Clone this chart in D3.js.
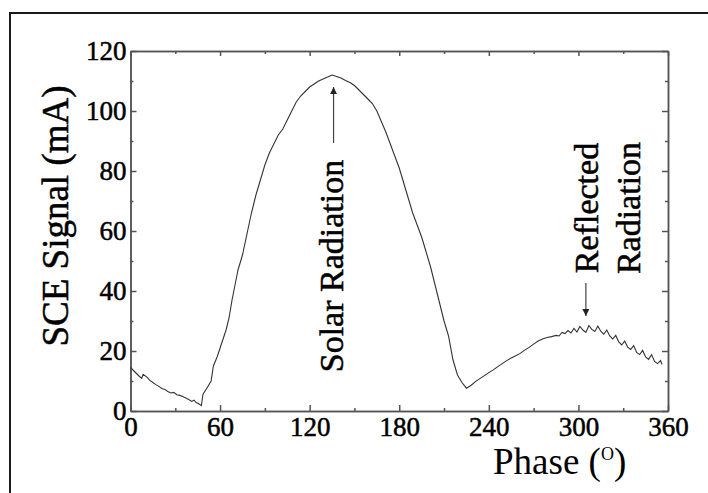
<!DOCTYPE html>
<html>
<head>
<meta charset="utf-8">
<script src="https://cdn.jsdelivr.net/npm/d3@7"></script>
<style>
  body { margin: 0; background: #fff; }
</style>
</head>
<body>
<div id="chart"></div>
<script>
// SCE signal vs phase
var phase = [0, 2, 4, 6, 7.5, 8.5, 11, 13, 15, 17, 19, 21, 23, 25, 27, 29, 31, 33, 35, 37, 39, 41, 42.5, 44, 46, 47.5,
  48.5, 51, 54, 55.5, 58, 60, 62, 64, 66, 68, 70, 72, 75, 78, 81, 84, 87, 90, 93, 96, 99, 102, 105, 108, 111, 114, 117,
  120, 123, 126, 129, 132, 135, 138, 141, 144, 147, 150, 153, 156, 159, 162, 165, 168, 171, 174, 177, 180, 183, 186,
  189, 192, 195, 198, 201, 204, 207, 210, 213, 216, 219, 222, 225, 228, 231, 234, 237, 240, 243, 246, 249, 252, 255,
  258, 261, 264, 267, 270, 273, 276, 279, 282, 285, 287, 289, 291, 293, 295, 297, 299, 301, 303, 305, 307, 309, 311,
  313, 315, 317, 319, 321, 323, 325, 327, 329, 331, 333, 335, 337, 339, 341, 343, 345, 347, 349, 351, 353, 355, 356];
var signal = [14.5, 13.5, 12.5, 11.5, 10.9, 12.2, 11.3, 10.2, 9.5, 8.8, 8.2, 7.5, 7.2, 6.5, 6.0, 6.2, 5.4, 5.2, 4.8, 4.3, 3.8, 3.2, 3.6, 2.8, 2.3, 1.8,
  5.5, 7.5, 10, 15, 18, 21, 24, 27, 31, 37, 42, 47, 52, 59, 66, 72, 77, 82, 86, 89, 92, 94, 97, 100, 103, 105, 106.5,
  108, 109, 110, 110.7, 111.3, 112, 111.5, 111, 110.2, 109.5, 108.5, 107, 105.5, 104, 102.5, 100, 96.5, 93, 89, 85, 81, 76, 71,
  66, 62, 58, 53, 48, 42, 36, 30, 25, 17, 12, 9.5, 7.6, 8.5, 9.8, 10.8, 11.8, 12.8, 13.7, 14.8, 15.8, 16.8, 17.7,
  18.4, 19.2, 20.3, 21.2, 22.3, 23.3, 24, 24.5, 24.8, 25.2, 25, 26.2, 25.8, 26.8, 26, 27.5, 26.3, 28.2, 27, 26.2, 28.5, 27.2, 26.5,
  28.3, 26.6, 25.6, 27, 25, 24, 25.2, 23, 22, 23.3, 21.3, 20.5, 21.8, 19.5, 18.8, 20.2, 18, 17.2, 18.8, 16.5, 15.8, 16.8, 15.5];

var xTicks = [0, 60, 120, 180, 240, 300, 360];
var xMinor = [30, 90, 150, 210, 270, 330];
var yTicks = [0, 20, 40, 60, 80, 100, 120];
var yMinor = [10, 30, 50, 70, 90, 110];

var FONT = "Liberation Serif";

var width = 708,
    height = 493;

var x = d3.scaleLinear().domain([0, 360]).range([130.5, 668]);
var y = d3.scaleLinear().domain([0, 120]).range([411, 51]);

var svg = d3.select("#chart").append("svg")
    .attr("width", width)
    .attr("height", height);

// outer frame, runs off the right and bottom
svg.append("rect")
    .attr("x", 10).attr("y", 13)
    .attr("width", 720).attr("height", 500)
    .attr("fill", "none")
    .attr("stroke", "#1a1a1a")
    .attr("stroke-width", 2);

function heavy(t) {
  t.attr("fill", "#000").attr("stroke", "#000").attr("stroke-width", 0.5);
}

function styleAxis(g) {
  g.attr("font-family", FONT).attr("font-size", 27);
  g.selectAll("path, line").attr("stroke", "#555").attr("stroke-width", 1.5);
  g.selectAll("text").call(heavy);
}

// bottom
svg.append("g").attr("transform", "translate(0," + y(0) + ")")
    .call(d3.axisBottom(x).tickValues(xTicks).tickSize(-6).tickSizeOuter(0).tickPadding(6))
    .call(styleAxis);
svg.append("g").attr("transform", "translate(0," + y(0) + ")")
    .call(d3.axisBottom(x).tickValues(xMinor).tickSize(-3).tickSizeOuter(0).tickFormat(""))
    .call(styleAxis);
// top
svg.append("g").attr("transform", "translate(0," + y(120) + ")")
    .call(d3.axisTop(x).tickValues(xTicks).tickSize(-5).tickSizeOuter(0).tickFormat(""))
    .call(styleAxis);
svg.append("g").attr("transform", "translate(0," + y(120) + ")")
    .call(d3.axisTop(x).tickValues(xMinor).tickSize(-3).tickSizeOuter(0).tickFormat(""))
    .call(styleAxis);
// left
svg.append("g").attr("transform", "translate(" + x(0) + ",0)")
    .call(d3.axisLeft(y).tickValues(yTicks).tickSize(-6).tickSizeOuter(0).tickPadding(4))
    .call(styleAxis);
svg.append("g").attr("transform", "translate(" + x(0) + ",0)")
    .call(d3.axisLeft(y).tickValues(yMinor).tickSize(-3).tickSizeOuter(0).tickFormat(""))
    .call(styleAxis);
// right
svg.append("g").attr("transform", "translate(" + x(360) + ",0)")
    .call(d3.axisRight(y).tickValues(yTicks).tickSize(-6).tickSizeOuter(0).tickFormat(""))
    .call(styleAxis);
svg.append("g").attr("transform", "translate(" + x(360) + ",0)")
    .call(d3.axisRight(y).tickValues(yMinor).tickSize(-3).tickSizeOuter(0).tickFormat(""))
    .call(styleAxis);

// the curve
var line = d3.line()
    .x(function(d, i) { return x(phase[i]); })
    .y(function(d) { return y(d); });

svg.append("path")
    .datum(signal)
    .attr("d", line)
    .attr("fill", "none")
    .attr("stroke", "#333")
    .attr("stroke-width", 1.1);

// axis titles
svg.append("text")
    .attr("transform", "translate(68," + 216 + ") rotate(-90)")
    .attr("text-anchor", "middle")
    .attr("font-family", FONT)
    .attr("font-size", 37)
    .call(heavy)
    .text("SCE Signal (mA)");

var xt = svg.append("text")
    .attr("x", 493).attr("y", 474)
    .attr("font-family", FONT)
    .attr("font-size", 37)
    .attr("fill", "#000");
xt.append("tspan").text("Phase (");
xt.append("tspan").attr("font-size", 18).attr("dy", -14).text("O");
xt.append("tspan").attr("dy", 14).text(")");

// annotations
svg.append("defs").append("marker")
    .attr("id", "arr")
    .attr("viewBox", "0 0 10 10")
    .attr("refX", 10).attr("refY", 5)
    .attr("markerWidth", 10).attr("markerHeight", 7)
    .attr("markerUnits", "userSpaceOnUse")
    .attr("orient", "auto")
    .append("path").attr("d", "M0,0L10,5L0,10Z").attr("fill", "#222");

svg.append("line")
    .attr("x1", x(136)).attr("y1", 143)
    .attr("x2", x(136)).attr("y2", 87)
    .attr("stroke", "#444").attr("stroke-width", 1.2)
    .attr("marker-end", "url(#arr)");

svg.append("text")
    .attr("transform", "translate(343,266) rotate(-90)")
    .attr("text-anchor", "middle")
    .attr("font-family", FONT)
    .attr("font-size", 34)
    .call(heavy)
    .text("Solar Radiation");

svg.append("line")
    .attr("x1", x(305)).attr("y1", 283)
    .attr("x2", x(305)).attr("y2", 316)
    .attr("stroke", "#444").attr("stroke-width", 1.2)
    .attr("marker-end", "url(#arr)");

svg.append("text")
    .attr("transform", "translate(598,208) rotate(-90)")
    .attr("text-anchor", "middle")
    .attr("font-family", FONT)
    .attr("font-size", 34)
    .call(heavy)
    .text("Reflected");
svg.append("text")
    .attr("transform", "translate(640,208) rotate(-90)")
    .attr("text-anchor", "middle")
    .attr("font-family", FONT)
    .attr("font-size", 34)
    .call(heavy)
    .text("Radiation");
</script>
</body>
</html>
